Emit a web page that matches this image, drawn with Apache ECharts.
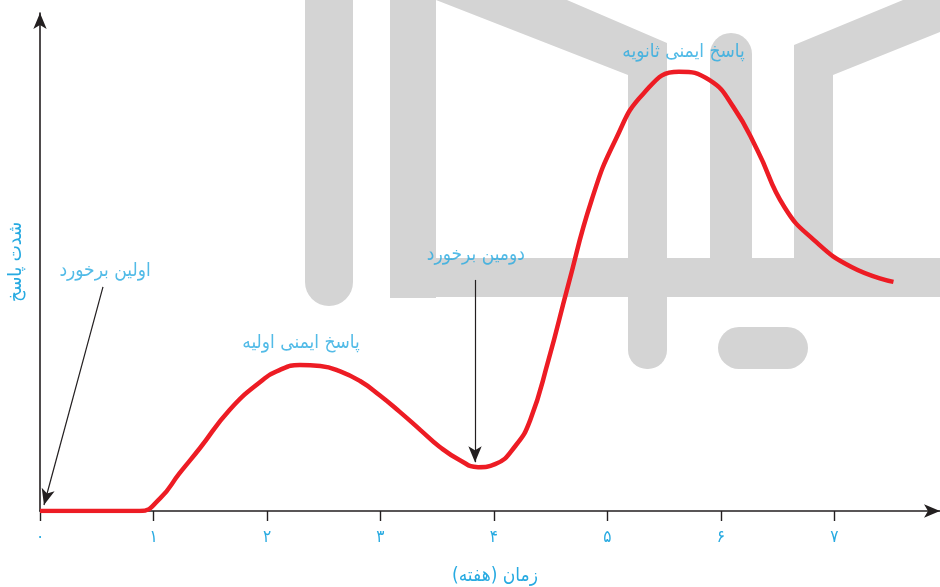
<!DOCTYPE html>
<html>
<head>
<meta charset="utf-8">
<script src="https://cdn.jsdelivr.net/npm/echarts@6/dist/echarts.min.js"></script>
<style>
  html, body { margin: 0; padding: 0; background: #fff; }
  #chart { width: 940px; height: 587px; }
</style>
</head>
<body>
<div id="chart"></div>
<script>
// curve (weeks, relative response)
const weeks = [0, 0.5, 0.88, 1.06, 1.23, 1.41, 1.67, 1.94, 2.11, 2.29, 2.47, 2.64, 2.82, 2.99, 3.17, 3.35, 3.52, 3.70, 3.86, 4.01, 4.19, 4.32, 4.48, 4.65, 4.86, 5.07, 5.32, 5.63, 5.90, 6.11, 6.32, 6.56, 6.82, 7.15, 7.52];
const response = [0, 0, 0, 2.6, 7.6, 12.65, 20.3, 25.9, 28.3, 29.3, 29.1, 28.1, 26.1, 23.3, 19.9, 16.3, 12.9, 10.2, 8.8, 9.4, 13.1, 18.3, 30.3, 45.0, 62.4, 74.5, 83.9, 88.2, 86.5, 81.1, 72.5, 61.0, 54.4, 49.0, 46.0];
const tickValues = [0, 1, 2, 3, 4, 5, 6, 7];
const tickLabels = ['۰', '۱', '۲', '۳', '۴', '۵', '۶', '۷'];

// text labels and arrows
const noteText = ['اولین برخورد', 'دومین برخورد', 'پاسخ ایمنی اولیه', 'پاسخ ایمنی ثانویه'];
const noteX = [0.573, 3.84, 2.30, 5.67];
const noteY = [48.2, 51.4, 33.7, 92.2];
const arrowFrom = [[0.555, 45.0], [3.833, 46.4]];
const arrowTo = [[0.035, 1.2], [3.833, 9.8]];

const cyan = '#27aae1';
const ink = '#231f20';
const grey = '#d4d4d4';
const font = 'DejaVu Sans Condensed, DejaVu Sans';

const RLM = '\u200F';

let myChart = echarts.init(document.getElementById('chart'));

const option = {
    animation: false,
    graphic: [
        // faded logo in the background
        { type: 'rect', z: -10, silent: true, shape: { x: 305, y: -30, width: 48, height: 336, r: [0, 0, 24, 24] }, style: { fill: grey } },
        { type: 'rect', z: -10, silent: true, shape: { x: 390, y: 0, width: 46, height: 298 }, style: { fill: grey } },
        { type: 'rect', z: -10, silent: true, shape: { x: 390, y: 258, width: 560, height: 39 }, style: { fill: grey } },
        { type: 'polygon', z: -10, silent: true, shape: { points: [[436, 0], [567, 0], [667, 43], [667, 100], [628, 100], [628, 75]] }, style: { fill: grey } },
        { type: 'rect', z: -10, silent: true, shape: { x: 628, y: 70, width: 39, height: 299, r: [0, 0, 19, 19] }, style: { fill: grey } },
        { type: 'rect', z: -10, silent: true, shape: { x: 710, y: 33, width: 42, height: 230, r: [21, 21, 0, 0] }, style: { fill: grey } },
        { type: 'polygon', z: -10, silent: true, shape: { points: [[794, 45], [903, 0], [950, 0], [950, 28], [833, 75], [833, 262], [794, 262]] }, style: { fill: grey } },
        { type: 'rect', z: -10, silent: true, shape: { x: 718, y: 327, width: 90, height: 42, r: 21 }, style: { fill: grey } }
    ],
    grid: { left: 40, right: 0, top: 13, bottom: 76, containLabel: false, outerBoundsMode: 'none' },
    xAxis: {
        type: 'value',
        min: 0,
        max: 7.93,
        interval: 1,
        name: 'زمان (هفته)' + RLM,
        nameLocation: 'middle',
        nameGap: 56,
        nameTextStyle: { color: cyan, fontSize: 19, fontFamily: font, padding: [0, 0, 0, 10] },
        axisLine: {
            lineStyle: { color: ink, width: 1.6 },
            symbol: ['none', 'arrow'],
            symbolSize: [10, 16]
        },
        axisTick: { show: true, length: 10, customValues: tickValues, lineStyle: { color: ink, width: 1.4 } },
        axisLabel: {
            customValues: tickValues,
            color: cyan,
            fontSize: 17,
            fontFamily: font,
            margin: 18,
            formatter: function (v) {
                return tickLabels[tickValues.indexOf(v)] || '';
            }
        },
        splitLine: { show: false }
    },
    yAxis: {
        type: 'value',
        min: 0,
        max: 100,
        name: 'شدت پاسخ',
        nameLocation: 'middle',
        nameGap: 14,
        nameTextStyle: { color: cyan, fontSize: 19, fontFamily: font },
        axisLine: {
            show: true,
            lineStyle: { color: ink, width: 1.6 },
            symbol: ['none', 'arrow'],
            symbolSize: [10, 16]
        },
        axisTick: { show: false },
        axisLabel: { show: false },
        splitLine: { show: false }
    },
    series: [
        {
            type: 'line',
            data: weeks.map(function (w, i) { return [w, response[i]]; }),
            smooth: 0.5,
            showSymbol: false,
            lineStyle: { color: '#ed1c24', width: 4.5 },
            z: 3,
            markLine: {
                silent: true,
                symbol: ['none', 'arrow'],
                symbolSize: [10, 16],
                label: { show: false },
                lineStyle: { color: ink, width: 1.2, type: 'solid' },
                data: arrowFrom.map(function (p, i) {
                    return [{ coord: p }, { coord: arrowTo[i] }];
                })
            }
        },
        {
            type: 'scatter',
            symbolSize: 0,
            silent: true,
            data: noteText.map(function (t, i) { return { value: [noteX[i], noteY[i]], name: t }; }),
            label: {
                show: true,
                position: 'inside',
                formatter: '{b}',
                color: cyan,
                fontSize: 19,
                fontFamily: font
            }
        }
    ]
};

myChart.setOption(option);
</script>
</body>
</html>
